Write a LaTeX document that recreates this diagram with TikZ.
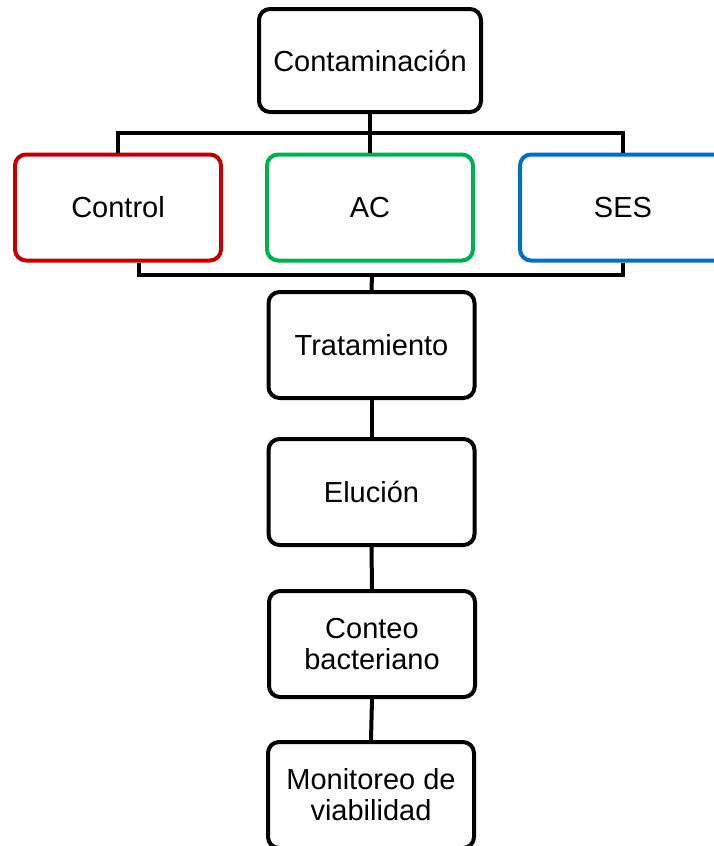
\documentclass[tikz,border=0pt]{standalone}
\usepackage{fontspec}
\setmainfont{Liberation Sans}
\definecolor{cred}{HTML}{C00000}
\definecolor{cgreen}{HTML}{00B050}
\definecolor{cblue}{HTML}{0070C0}
\begin{document}
\begin{tikzpicture}[x=1pt,y=1pt,
  box/.style={draw=black, line width=4pt, rounded corners=11pt, fill=white,
    minimum width=206pt, minimum height=106pt, align=center, inner sep=0pt,
    font=\fontsize{29}{31}\selectfont},
  link/.style={line width=4pt, black}]
\useasboundingbox (0,0) rectangle (714,-846);
\clip (0,0) rectangle (714,-846);
\fill[white] (0,0) rectangle (714,-846);
% nodes
\node[box, minimum width=222pt, minimum height=103pt] (top) at (370,-60.5) {Contaminación};
\node[box, draw=cred] (ctrl) at (118,-207.5) {Control};
\node[box, draw=cgreen] (ac) at (370,-207.5) {AC};
\node[box, draw=cblue] (ses) at (623,-207.5) {SES};
\node[box] (trat) at (371.5,-345) {Tratamiento};
\node[box] (elu) at (371.5,-492) {Elución};
\node[box] (conteo) at (372,-644) {Conteo\\bacteriano};
\node[box] (mon) at (371,-795) {Monitoreo de\\viabilidad};
% bus coordinates
\coordinate (bus1) at (370,-133);
\coordinate (bus2) at (372,-275);
% connectors
\draw[link] (top.south) -- (bus1);
\draw[link] (ctrl.north) |- (bus1) -| (ses.north);
\draw[link] (bus1) -- (ac.north);
\draw[link] ([xshift=21pt]ctrl.south) |- (bus2) -| (ses.south);
\draw[link] (bus2) -- (trat.north);
\draw[link] (trat.south) -- (elu.north);
\draw[link] (elu.south) -- (conteo.north);
\draw[link] (conteo.south) -- (mon.north);
\end{tikzpicture}
\end{document}
